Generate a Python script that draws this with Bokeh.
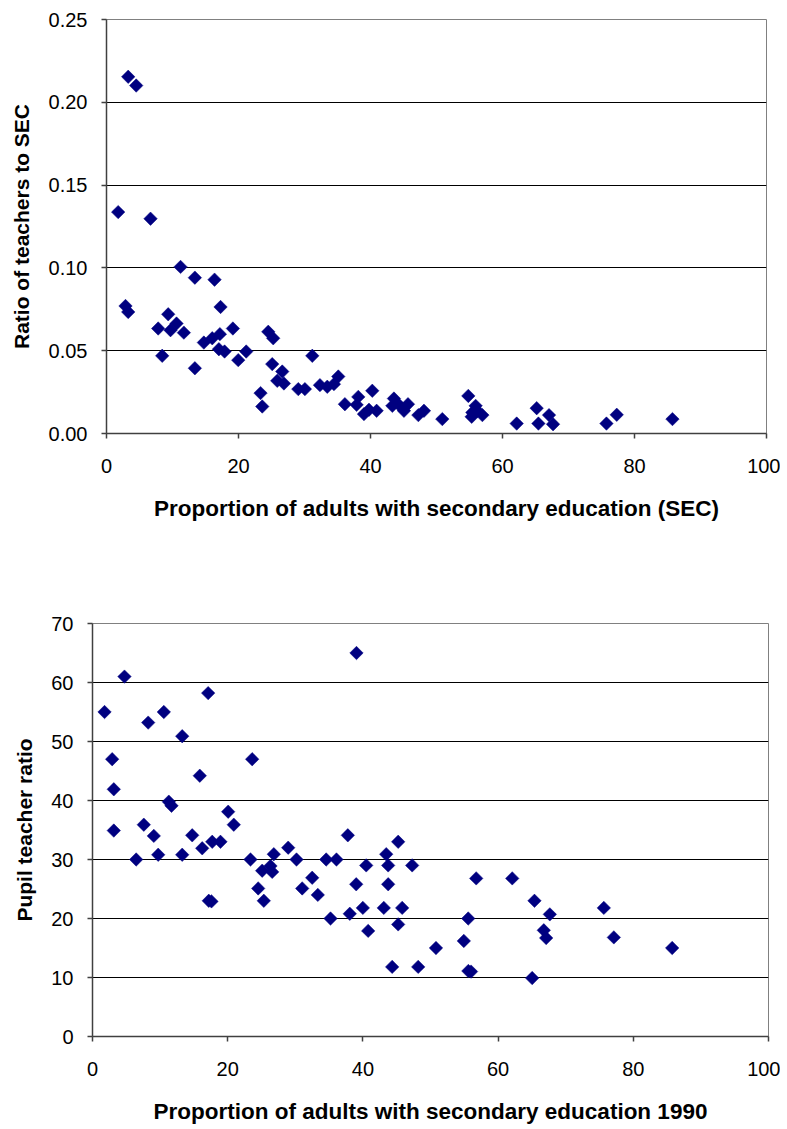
import numpy as np
from bokeh.plotting import figure
from bokeh.layouts import column
from bokeh.models import FixedTicker, Range1d, PrintfTickFormatter
from bokeh.embed import file_html
from bokeh.resources import INLINE

# ---- Top chart data: proportion of adults with SEC vs ratio of teachers to SEC
sec_top = [3.29, 4.50, 1.77, 6.67, 11.22, 13.39, 16.37, 2.88, 3.29, 17.28,
           9.35, 10.61, 9.70, 7.83, 11.72, 19.15, 8.44, 13.39, 14.75, 16.02,
           17.18, 17.03, 17.89, 19.96, 21.17, 24.51, 25.26, 25.11, 26.63, 25.87,
           26.88, 23.34, 23.60, 29.06, 30.06, 31.18, 32.34, 33.45, 34.46, 35.12,
           36.12, 37.90, 38.15, 39.01, 40.27, 39.77, 40.93, 43.55, 43.31, 44.31,
           45.07, 45.68, 47.25, 48.10, 50.88, 54.82, 55.93, 55.33, 56.95, 56.19,
           55.43, 62.15, 65.18, 65.44, 67.05, 67.66, 75.75, 77.31, 85.75]
ratio_top = [0.2154, 0.2101, 0.1337, 0.1297, 0.1006, 0.0941, 0.0929, 0.0770, 0.0734, 0.0764,
             0.0720, 0.0664, 0.0624, 0.0634, 0.0609, 0.0634, 0.0469, 0.0394, 0.0549, 0.0575,
             0.0600, 0.0509, 0.0495, 0.0443, 0.0495, 0.0614, 0.0575, 0.0419, 0.0374, 0.0318,
             0.0302, 0.0244, 0.0163, 0.0268, 0.0268, 0.0469, 0.0292, 0.0282, 0.0298, 0.0344,
             0.0177, 0.0173, 0.0221, 0.0117, 0.0258, 0.0143, 0.0137, 0.0211, 0.0167, 0.0173,
             0.0137, 0.0177, 0.0111, 0.0137, 0.0087, 0.0227, 0.0167, 0.0101, 0.0111, 0.0137,
             0.0127, 0.0060, 0.0153, 0.0060, 0.0111, 0.0056, 0.0060, 0.0113, 0.0087]

# ---- Bottom chart data: proportion of adults with SEC 1990 vs pupil teacher ratio
sec_bot = [39.05, 4.73, 17.11, 1.78, 10.55, 8.24, 13.27, 2.91, 23.62, 15.87,
           3.15, 11.29, 11.69, 20.07, 20.90, 7.59, 3.15, 9.07, 14.75, 17.71,
           18.93, 16.23, 9.72, 13.27, 6.46, 17.20, 17.60, 23.37, 25.10, 26.33,
           26.58, 26.82, 24.51, 25.34, 28.95, 30.18, 31.02, 32.50, 33.33, 34.57,
           36.09, 37.77, 35.21, 38.06, 39.01, 40.49, 39.99, 40.78, 43.45, 43.74,
           45.22, 43.74, 43.09, 45.81, 45.22, 47.29, 44.33, 48.18, 50.81, 56.76,
           62.09, 55.58, 54.93, 55.60, 56.00, 65.04, 65.38, 67.65, 66.76, 67.11,
           75.64, 77.12, 85.75]
ptr_bot = [65.0, 61.0, 58.2, 55.0, 55.0, 53.2, 50.9, 47.0, 47.0, 44.2,
           41.9, 39.8, 39.1, 38.1, 35.9, 35.9, 34.9, 34.0, 34.1, 33.0,
           33.0, 31.9, 30.8, 30.8, 30.0, 23.0, 22.9, 30.0, 28.1, 28.9,
           27.9, 30.9, 25.1, 23.0, 32.0, 30.0, 25.1, 26.9, 24.0, 30.0,
           30.0, 34.1, 20.0, 20.8, 25.8, 29.0, 21.8, 17.9, 30.9, 29.0,
           33.0, 25.8, 21.8, 21.8, 19.0, 29.0, 11.8, 11.8, 15.0, 26.8,
           26.8, 20.0, 16.2, 11.1, 11.0, 9.9, 23.0, 20.7, 18.0, 16.7,
           21.8, 16.8, 15.0]

x_ticks = [0, 20, 40, 60, 80, 100]
top_y_ticks = [0.0, 0.05, 0.10, 0.15, 0.20, 0.25]
bot_y_ticks = [0, 10, 20, 30, 40, 50, 60, 70]

FONT = "Liberation Sans"
NAVY = "#000080"
AXIS_COL = "#404040"


def style(p, xlab, ylab, yticks, y_label_standoff):
    p.background_fill_color = "white"
    p.border_fill_color = "white"
    p.outline_line_color = "#808080"
    p.outline_line_width = 1
    p.xgrid.visible = False
    p.ygrid.ticker = FixedTicker(ticks=yticks[1:-1])
    p.ygrid.grid_line_color = "black"
    p.ygrid.grid_line_width = 1
    for ax in (p.xaxis[0], p.yaxis[0]):
        ax.axis_line_color = AXIS_COL
        ax.axis_line_width = 1.5
        ax.major_tick_line_color = AXIS_COL
        ax.major_tick_line_width = 1.5
        ax.major_tick_in = 0
        ax.major_tick_out = 5
        ax.minor_tick_line_color = None
        ax.major_label_text_font = FONT
        ax.major_label_text_font_size = "20px"
        ax.major_label_text_color = "black"
        ax.axis_label_text_font = FONT
        ax.axis_label_text_font_style = "bold"
        ax.axis_label_text_color = "black"
    p.xaxis.axis_label_text_font_size = "22.5px"
    p.yaxis.axis_label_text_font_size = "21px"
    p.xaxis.ticker = FixedTicker(ticks=x_ticks)
    p.yaxis.ticker = FixedTicker(ticks=yticks)
    p.xaxis.axis_label = xlab
    p.yaxis.axis_label = ylab
    p.xaxis.major_label_standoff = 20
    p.xaxis.axis_label_standoff = 20
    p.yaxis.major_label_standoff = 14
    p.yaxis.axis_label_standoff = y_label_standoff


top = figure(width=780, height=540, x_range=Range1d(0, 100), y_range=Range1d(0, 0.25),
             output_backend="svg", toolbar_location=None, frame_align=False,
             min_border_left=106, min_border_right=14, min_border_top=19, min_border_bottom=107)
top.scatter(sec_top, ratio_top, marker="square", angle=np.pi / 4, size=9.5,
            fill_color=NAVY, line_color=NAVY, line_width=0.5)
style(top, "Proportion of adults with secondary education (SEC)",
      "Ratio of teachers to SEC", top_y_ticks, 13)
top.yaxis.formatter = PrintfTickFormatter(format="%.2f")

bot = figure(width=780, height=586, x_range=Range1d(0, 100), y_range=Range1d(0, 70),
             output_backend="svg", toolbar_location=None, frame_align=False,
             min_border_left=92, min_border_right=12, min_border_top=83, min_border_bottom=90)
bot.scatter(sec_bot, ptr_bot, marker="square", angle=np.pi / 4, size=9.5,
            fill_color=NAVY, line_color=NAVY, line_width=0.5)
style(bot, "Proportion of adults with secondary education 1990",
      "Pupil teacher ratio", bot_y_ticks, 12)

layout = column(top, bot, spacing=0)
open("out.html", "w").write(file_html(layout, INLINE))
